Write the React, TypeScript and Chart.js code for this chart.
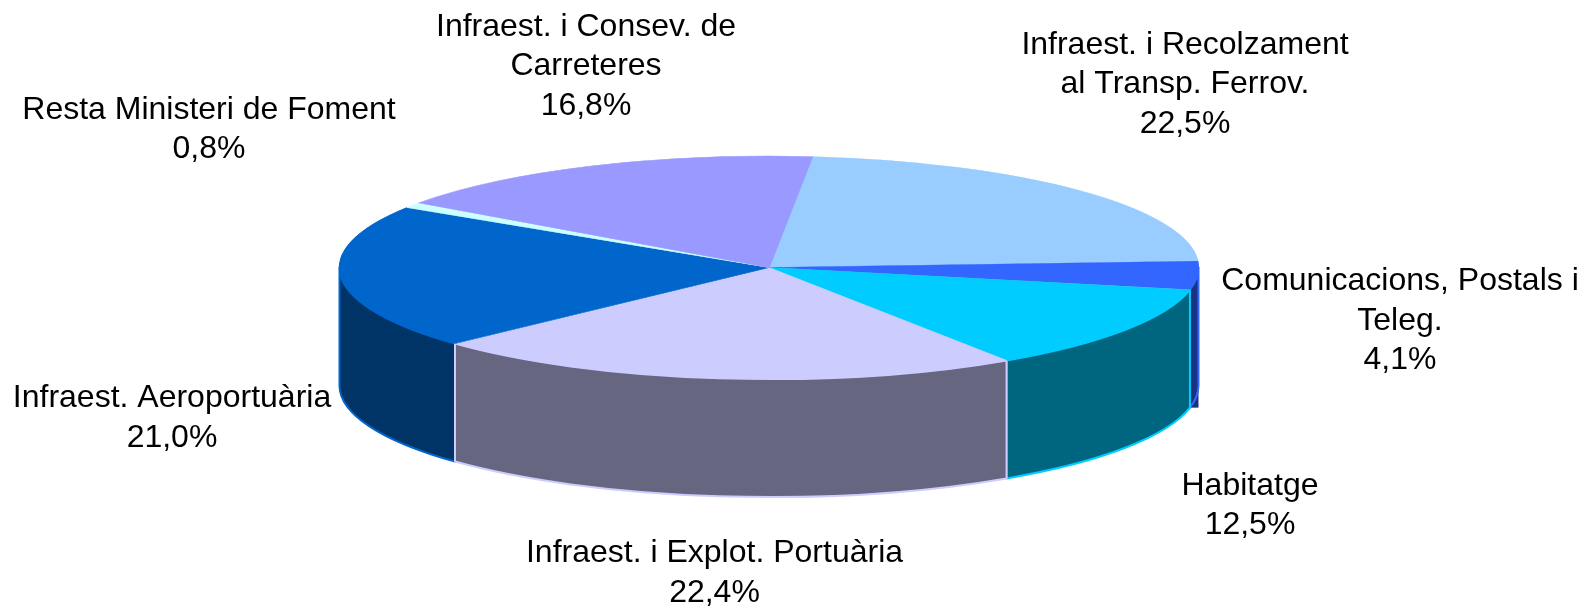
import React, { useEffect, useRef } from "react";
import { Chart, registerables } from "chart.js";

Chart.register(...registerables);

const categories = [
  ["Infraest. i Recolzament", "al Transp. Ferrov."],
  ["Comunicacions, Postals i", "Teleg."],
  ["Habitatge"],
  ["Infraest. i Explot. Portuària"],
  ["Infraest. Aeroportuària"],
  ["Resta Ministeri de Foment"],
  ["Infraest. i Consev. de", "Carreteres"],
];
const values = [22.5, 4.1, 12.5, 22.4, 21.0, 0.8, 16.8];
const percentLabels = ["22,5%", "4,1%", "12,5%", "22,4%", "21,0%", "0,8%", "16,8%"];
const topColors = ["#99CCFF", "#3366FF", "#00CCFF", "#CCCCFF", "#0066CC", "#CCFFFF", "#9999FF"];
const sideColors = ["#4D6680", "#1A3380", "#006680", "#666680", "#003366", "#668080", "#4D4D80"];

// label anchor: centre x and first-line centre y
const labelAnchors = [
  [1185, 45],
  [1400, 281.5],
  [1250, 486],
  [714.5, 553.5],
  [172, 398.5],
  [209, 110],
  [586, 27],
];
const LINE_HEIGHT = 39.5;
const FONT = '32px "Liberation Sans", Arial, sans-serif';

const W = 1589;
const H = 607;
const CX = 769;
const CY = 267.5;
const RX = 429.5;
const RY = 111.5;
const DEPTH = 118;
const ROTATION = 5.8;
const SIDE_ORDER = [1, 4, 2, 3];

const pie3d = {
  id: "pie3d",
  beforeDatasetsDraw(chart: any) {
    const ctx = chart.ctx;
    const arcs = chart.getDatasetMeta(0).data;
    ctx.save();
    for (const i of SIDE_ORDER) {
      const arc = arcs[i];
      const a0 = Math.max(arc.startAngle, 0);
      const a1 = Math.min(arc.endAngle, Math.PI);
      if (a1 <= a0) continue;
      // square corner behind the slice crossing the right extreme
      if (arc.startAngle < 0) {
        const xe = CX + RX * Math.cos(a1);
        const ye = CY + RY * Math.sin(a1) + DEPTH;
        ctx.fillStyle = sideColors[i];
        ctx.fillRect(xe, CY, CX + RX - xe, ye - CY);
      }
      ctx.beginPath();
      ctx.ellipse(CX, CY, RX, RY, 0, a0, a1);
      ctx.ellipse(CX, CY + DEPTH, RX, RY, 0, a1, a0, true);
      ctx.closePath();
      ctx.fillStyle = sideColors[i];
      ctx.fill();
      ctx.strokeStyle = topColors[i];
      ctx.lineWidth = 2;
      ctx.lineJoin = "round";
      ctx.stroke();
    }
    ctx.restore();
    const first = arcs[0];
    const R = first.outerRadius;
    ctx.save();
    ctx.translate(CX, CY);
    ctx.scale(RX / R, RY / R);
    ctx.translate(-first.x, -first.y);
  },
  afterDatasetsDraw(chart: any) {
    const ctx = chart.ctx;
    ctx.restore();
    ctx.save();
    ctx.font = FONT;
    ctx.fillStyle = "#000000";
    ctx.textAlign = "center";
    ctx.textBaseline = "middle";
    categories.forEach((lines, i) => {
      const [x, y] = labelAnchors[i];
      [...lines, percentLabels[i]].forEach((t, k) => {
        ctx.fillText(t, x, y + k * LINE_HEIGHT);
      });
    });
    ctx.restore();
  },
};

export default function App() {
  const ref = useRef<HTMLCanvasElement>(null);
  useEffect(() => {
    document.body.style.margin = "0";
    const chart = new Chart(ref.current!, {
      type: "pie",
      data: {
        labels: categories.map((c) => c.join(" ")),
        datasets: [
          {
            data: values,
            backgroundColor: topColors,
            borderColor: topColors,
            borderWidth: 1,
            clip: false,
          } as any,
        ],
      },
      options: {
        responsive: false,
        animation: false,
        rotation: ROTATION,
        layout: { padding: 0 },
        plugins: { legend: { display: false }, tooltip: { enabled: false }, title: { display: false } },
      },
      plugins: [pie3d],
    });
    return () => chart.destroy();
  }, []);
  return <canvas ref={ref} width={W} height={H} style={{ display: "block", background: "#fff" }} />;
}
